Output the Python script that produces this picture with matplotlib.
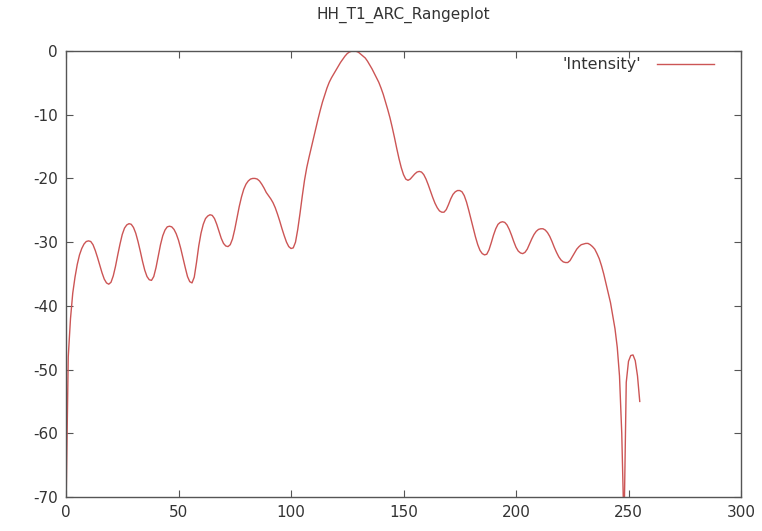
import numpy as np
import matplotlib
matplotlib.use("Agg")
from matplotlib import pyplot as plt

plt.rcParams["axes.unicode_minus"] = False

# range plot intensity, one value per range bin
intensity = [
    -72.0, -48.0, -42.0, -38.0, -35.5, -33.5, -32.0, -31.0, -30.3, -29.9,
    -29.8, -29.9, -30.4, -31.3, -32.4, -33.6, -34.8, -35.8, -36.4, -36.6,
    -36.3, -35.3, -33.8, -32.0, -30.3, -28.8, -27.8, -27.3, -27.1, -27.2,
    -27.7, -28.6, -29.9, -31.4, -33.0, -34.4, -35.4, -35.9, -36.0, -35.4,
    -34.0, -32.2, -30.4, -29.0, -28.1, -27.6, -27.5, -27.6, -28.0, -28.7,
    -29.7, -31.0, -32.5, -34.0, -35.4, -36.2, -36.4, -35.5, -33.2, -30.6,
    -28.6, -27.2, -26.3, -25.9, -25.7, -25.8, -26.3, -27.2, -28.3, -29.4,
    -30.2, -30.6, -30.7, -30.4, -29.5, -28.0, -26.2, -24.4, -22.9, -21.7,
    -20.9, -20.4, -20.1, -20.0, -20.0, -20.1, -20.4, -20.9, -21.5, -22.2,
    -22.7, -23.2, -23.8, -24.6, -25.6, -26.7, -27.9, -29.0, -30.0, -30.7,
    -31.0, -30.9, -30.0, -28.0, -25.5, -22.8, -20.3, -18.3, -16.7, -15.2,
    -13.7, -12.2, -10.7, -9.3, -8.0, -6.9, -5.8, -4.9, -4.2, -3.6,
    -3.0, -2.4, -1.8, -1.3, -0.8, -0.4, -0.15, -0.03, 0.0, -0.05,
    -0.2, -0.5, -0.8, -1.1, -1.6, -2.2, -2.8, -3.5, -4.2, -4.9,
    -5.8, -6.8, -8.0, -9.2, -10.5, -12.0, -13.6, -15.3, -16.9, -18.3,
    -19.4, -20.1, -20.3, -20.1, -19.7, -19.3, -19.0, -18.9, -19.0, -19.4,
    -20.1, -21.0, -22.0, -23.0, -23.9, -24.6, -25.1, -25.3, -25.3, -24.9,
    -24.1, -23.2, -22.5, -22.1, -21.9, -21.9, -22.1, -22.7, -23.7, -25.0,
    -26.4, -27.8, -29.2, -30.4, -31.3, -31.8, -32.0, -31.9, -31.2, -30.1,
    -28.9, -27.9, -27.2, -26.9, -26.8, -26.9, -27.3, -28.0, -28.9, -29.9,
    -30.8, -31.4, -31.7, -31.8, -31.6, -31.1, -30.3, -29.5, -28.8, -28.3,
    -28.0, -27.9, -27.9, -28.1, -28.5, -29.1, -29.9, -30.8, -31.6, -32.3,
    -32.8, -33.1, -33.2, -33.2, -32.9, -32.3, -31.7, -31.1, -30.7, -30.4,
    -30.3, -30.2, -30.2, -30.4, -30.7, -31.1, -31.8, -32.6, -33.7, -35.0,
    -36.5, -38.0, -39.5, -41.5, -43.6, -46.5, -51.0, -60.0, -75.0, -52.0,
    -48.7, -47.8, -47.7, -48.6, -51.0, -55.0,
]
range_bin = np.arange(len(intensity))

x_ticks = [0, 50, 100, 150, 200, 250, 300]
y_ticks = [-70, -60, -50, -40, -30, -20, -10, 0]

border_col = "#555555"
text_col = "#333333"

fig = plt.figure(figsize=(7.62, 5.31), dpi=100)
ax = fig.add_axes([66 / 762, 34 / 531, 675 / 762, 446 / 531])

ax.plot(range_bin, intensity, color="#cc5555", lw=1.0, label="'Intensity'")

ax.set_xlim(0, 300)
ax.set_ylim(-70, 0)
ax.set_xticks(x_ticks)
ax.set_yticks(y_ticks)

for s in ax.spines.values():
    s.set_color(border_col)
    s.set_linewidth(1.0)

ax.tick_params(direction="in", length=5, width=0.8, color=border_col,
               top=True, right=True, labelsize=11, labelcolor=text_col, pad=6)

ax.set_title("HH_T1_ARC_Rangeplot", fontsize=11, color=text_col, pad=23)

leg = ax.legend(loc="upper right", bbox_to_anchor=(0.97, 1.0), frameon=False,
                fontsize=11.5, markerfirst=False, handlelength=3.6,
                handletextpad=1.0, borderaxespad=0.0, labelcolor=text_col)

fig.savefig("out.png", dpi=100, facecolor="white")
